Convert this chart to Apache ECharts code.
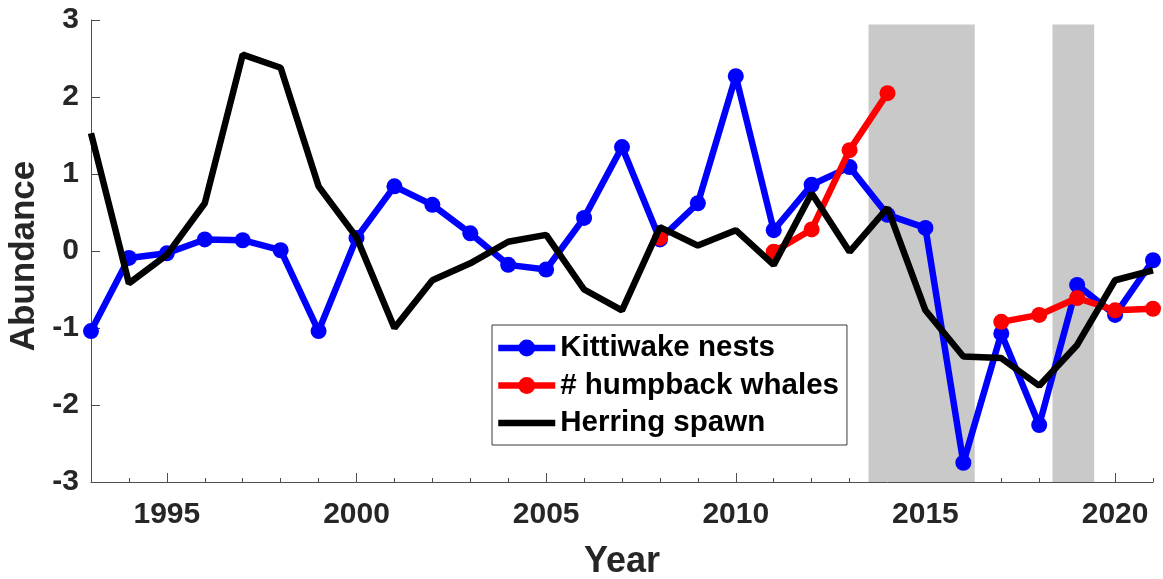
<!DOCTYPE html>
<html>
<head>
<meta charset="utf-8">
<script src="https://cdn.jsdelivr.net/npm/echarts@6/dist/echarts.min.js"></script>
<style>
  html, body { margin: 0; padding: 0; background: #ffffff; }
  #chart { width: 1163px; height: 579px; }
</style>
</head>
<body>
<div id="chart"></div>
<script>
// Annual standardized abundance indices, 1993-2021
const years = [1993, 1994, 1995, 1996, 1997, 1998, 1999, 2000, 2001, 2002,
               2003, 2004, 2005, 2006, 2007, 2008, 2009, 2010, 2011, 2012,
               2013, 2014, 2015, 2016, 2017, 2018, 2019, 2020, 2021];

const kittiwakeNests = [-1.04, -0.09, -0.03, 0.15, 0.14, 0.01, -1.04, 0.17, 0.84, 0.60,
                        0.23, -0.18, -0.24, 0.43, 1.35, 0.15, 0.62, 2.27, 0.27, 0.86,
                        1.09, 0.47, 0.30, -2.75, -1.07, -2.26, -0.44, -0.83, -0.12];

const humpbackWhales = [null, null, null, null, null, null, null, null, null, null,
                        null, null, null, null, null, 0.17, null, null, -0.01, 0.28,
                        1.31, 2.05, null, null, -0.92, -0.83, -0.61, -0.77, -0.75];

const herringSpawn = [1.53, -0.42, -0.05, 0.62, 2.55, 2.38, 0.84, 0.18, -1.00, -0.38,
                      -0.16, 0.12, 0.21, -0.50, -0.77, 0.31, 0.07, 0.27, -0.18, 0.75,
                      -0.01, 0.56, -0.77, -1.37, -1.39, -1.75, -1.22, -0.38, -0.25];

// Shaded periods (start year, end year) and the top of the shading
const shadedPeriods = [[2013.5, 2016.3], [2018.35, 2019.45]];
const shadeTop = 2.94;

const majorYears = [1995, 2000, 2005, 2010, 2015, 2020];

const seriesNames = ['Kittiwake nests', '# humpback whales', 'Herring spawn'];

const FONT = '"Liberation Sans", Arial, Helvetica, sans-serif';
const pairs = vals => years.map((y, i) => [y, vals[i]]);

const chart = echarts.init(document.getElementById('chart'), null, { renderer: 'canvas' });

const axisColor = '#4d4d4d';
const labelColor = '#262626';
const LINE_W = 6.5;

const option = {
  backgroundColor: '#ffffff',
  animation: false,
  grid: { left: 91, right: 10, top: 20, bottom: 97, containLabel: false },
  legend: {
    data: [
      { name: seriesNames[0] },
      { name: seriesNames[1] },
      { name: seriesNames[2], itemStyle: { opacity: 0 } }   // plain line, no marker
    ],
    orient: 'vertical',
    left: 492,
    top: 325,
    backgroundColor: '#ffffff',
    borderColor: '#3a3a3a',
    borderWidth: 1,
    borderRadius: 0,
    padding: [8, 8, 7, 3],
    itemWidth: 57,
    itemHeight: 21,
    itemGap: 7.5,
    lineStyle: { width: LINE_W },
    textStyle: { fontFamily: FONT, fontWeight: 'bold', fontSize: 29.5, lineHeight: 30, color: '#000000' }
  },
  xAxis: [
    {
      type: 'value', min: 1993, max: 2021,
      axisLine: { show: true, onZero: false, lineStyle: { color: axisColor, width: 1 } },
      axisTick: { show: true, inside: true, length: 4, customValues: years, lineStyle: { color: axisColor } },
      axisLabel: {
        show: true, customValues: majorYears, margin: 18,
        formatter: v => String(v),
        fontFamily: FONT, fontWeight: 'bold', fontSize: 30, color: labelColor
      },
      splitLine: { show: false }
    },
    {
      type: 'value', min: 1993, max: 2021, position: 'bottom',
      axisLine: { show: false, onZero: false },
      axisTick: { show: true, inside: true, length: 9, customValues: majorYears, lineStyle: { color: axisColor } },
      axisLabel: { show: false },
      splitLine: { show: false }
    }
  ],
  yAxis: {
    type: 'value', min: -3, max: 3, interval: 1,
    axisLine: { show: true, onZero: false, lineStyle: { color: axisColor, width: 1 } },
    axisTick: { show: true, inside: true, length: 9, lineStyle: { color: axisColor } },
    axisLabel: { margin: 12, fontFamily: FONT, fontWeight: 'bold', fontSize: 30, color: labelColor },
    splitLine: { show: false }
  },
  graphic: [
    {
      type: 'text', x: 622, y: 562, z: 10,
      style: { text: 'Year', fontFamily: FONT, fontWeight: 'bold', fontSize: 36, fill: labelColor,
               align: 'center', verticalAlign: 'middle' }
    },
    {
      type: 'text', x: 24, y: 256, rotation: Math.PI / 2, z: 10,
      style: { text: 'Abundance', fontFamily: FONT, fontWeight: 'bold', fontSize: 35, fill: labelColor,
               align: 'center', verticalAlign: 'middle' }
    }
  ],
  series: [
    {
      name: 'shading', type: 'line', data: [], z: 1, silent: true,
      markArea: {
        silent: true,
        itemStyle: { color: '#c9c9c9', opacity: 1 },
        data: shadedPeriods.map(p => [{ xAxis: p[0], yAxis: -3 }, { xAxis: p[1], yAxis: shadeTop }])
      }
    },
    {
      name: seriesNames[0], type: 'line', data: pairs(kittiwakeNests), z: 2,
      symbol: 'circle', symbolSize: 16, showSymbol: true,
      lineStyle: { color: '#0000ff', width: LINE_W }, itemStyle: { color: '#0000ff' }
    },
    {
      name: seriesNames[1], type: 'line', data: pairs(humpbackWhales), z: 3,
      connectNulls: false, symbol: 'circle', symbolSize: 16, showSymbol: true,
      lineStyle: { color: '#ff0000', width: LINE_W }, itemStyle: { color: '#ff0000' }
    },
    {
      name: seriesNames[2], type: 'line', data: pairs(herringSpawn), z: 4,
      symbol: 'none', showSymbol: false,
      lineStyle: { color: '#000000', width: LINE_W }, itemStyle: { color: '#000000' }
    }
  ]
};

chart.setOption(option);
</script>
</body>
</html>
